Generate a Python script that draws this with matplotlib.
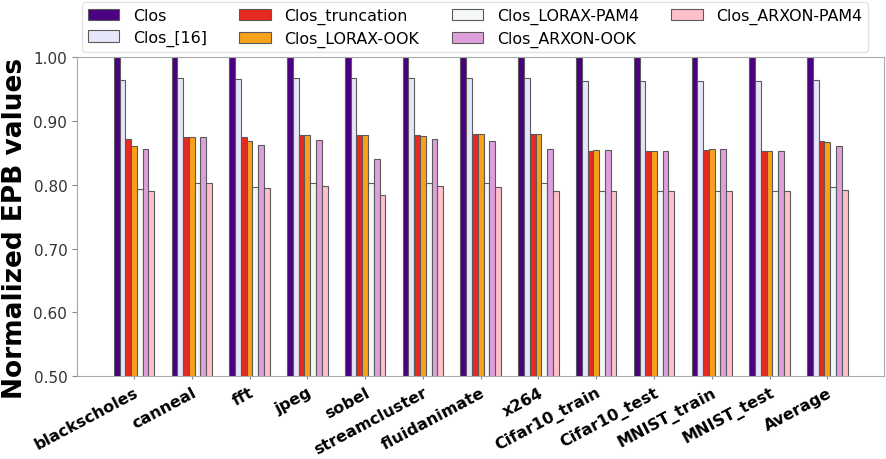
import matplotlib
matplotlib.use("Agg")
import matplotlib.pyplot as plt
import numpy as np

categories = ["blackscholes", "canneal", "fft", "jpeg", "sobel", "streamcluster",
              "fluidanimate", "x264", "Cifar10_train", "Cifar10_test",
              "MNIST_train", "MNIST_test", "Average"]

series_names = ["Clos", "Clos_[16]", "Clos_truncation", "Clos_LORAX-OOK",
                "Clos_LORAX-PAM4", "Clos_ARXON-OOK", "Clos_ARXON-PAM4"]

clos = [1.0] * 13
clos_16 = [0.964, 0.967, 0.965, 0.967, 0.967, 0.967, 0.967, 0.967, 0.963, 0.963, 0.963, 0.963, 0.964]
clos_trunc = [0.871, 0.875, 0.875, 0.878, 0.878, 0.878, 0.879, 0.879, 0.853, 0.852, 0.854, 0.852, 0.869]
clos_lorax_ook = [0.860, 0.875, 0.868, 0.878, 0.878, 0.876, 0.879, 0.879, 0.854, 0.853, 0.856, 0.853, 0.867]
clos_lorax_pam4 = [0.793, 0.802, 0.797, 0.803, 0.803, 0.803, 0.803, 0.803, 0.790, 0.790, 0.790, 0.790, 0.797]
clos_arxon_ook = [0.856, 0.875, 0.862, 0.870, 0.840, 0.871, 0.869, 0.856, 0.854, 0.853, 0.856, 0.853, 0.860]
clos_arxon_pam4 = [0.790, 0.802, 0.794, 0.798, 0.784, 0.798, 0.797, 0.790, 0.790, 0.790, 0.790, 0.790, 0.792]

series = [clos, clos_16, clos_trunc, clos_lorax_ook, clos_lorax_pam4, clos_arxon_ook, clos_arxon_pam4]
colors = ["#4b0082", "#e6e6fa", "#e8291f", "#f9a11b", "#f4f8f4", "#dda0dd", "#ffc0cb"]

fig = plt.figure(figsize=(8.86, 4.6), dpi=100)
ax = fig.add_axes([0.087, 0.180, 0.911, 0.694])

x = np.arange(len(categories))
w = 0.1
for i, (vals, name, c) in enumerate(zip(series, series_names, colors)):
    ax.bar(x + (i - 3) * w, vals, w, color=c, edgecolor="#5a5a5a", linewidth=0.8, label=name)

ax.set_ylim(0.5, 1.0)
yt = [0.5, 0.6, 0.7, 0.8, 0.9, 1.0]
ax.set_yticks(yt)
ax.set_yticklabels([f"{v:.2f}" for v in yt], fontsize=11, color="#333333")
ax.set_xticks(x)
ax.set_xticklabels(categories, rotation=28, ha="right", va="top", rotation_mode="anchor",
                   fontsize=11.5, fontweight="bold")
ax.tick_params(axis="x", length=2, pad=4)
ax.set_ylabel("Normalized EPB values", fontsize=19, fontweight="bold")
ax.yaxis.set_label_coords(-0.061, 0.467)
for s in ax.spines.values():
    s.set_color("#aaaaaa")
ax.tick_params(axis="both", color="#888888")

ax.legend(ncol=4, fontsize=11.4, loc="lower center", bbox_to_anchor=(0.493, 1.014),
          frameon=True, edgecolor="#dddddd", handlelength=2.0, columnspacing=2.05,
          handletextpad=0.85, borderaxespad=0.0, labelspacing=0.42, borderpad=0.35)

fig.savefig("out.png", dpi=100)
